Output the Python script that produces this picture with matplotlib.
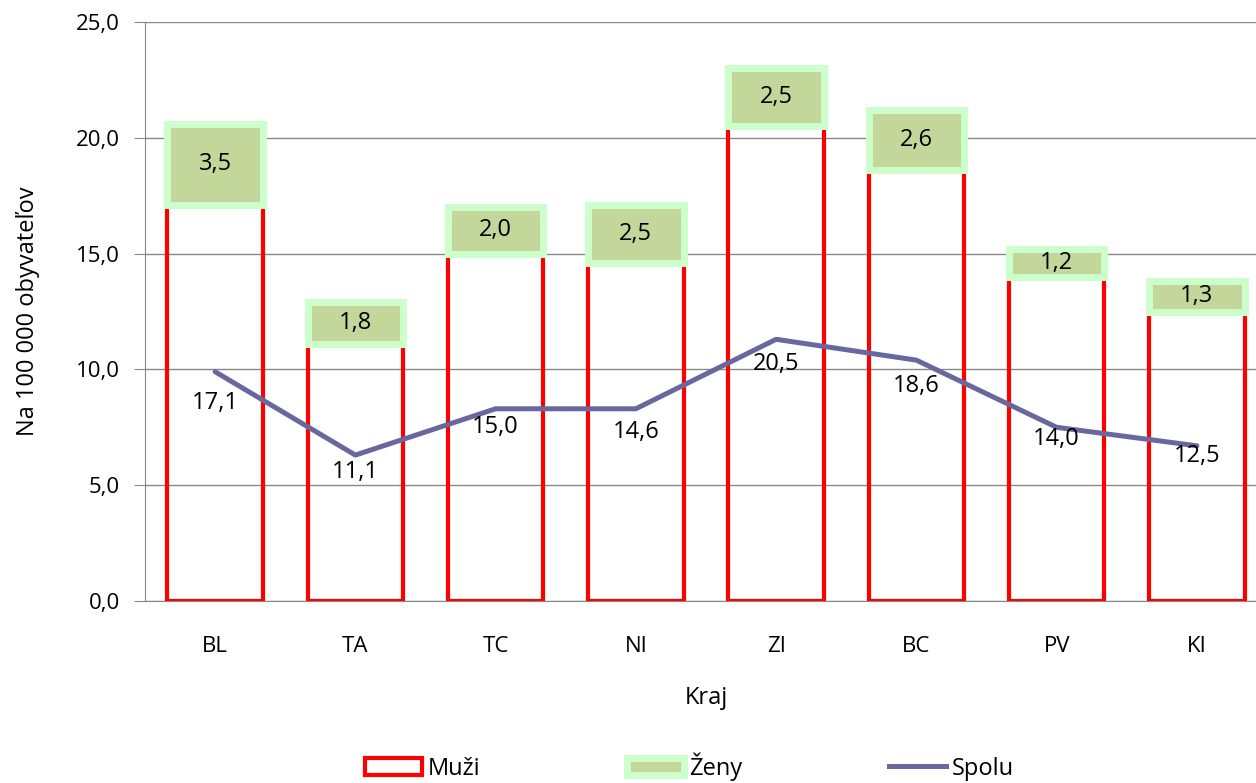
import matplotlib.pyplot as plt
from matplotlib.patches import Patch
from matplotlib.lines import Line2D
import numpy as np

plt.rcParams['font.family'] = ['Open Sans', 'DejaVu Sans']

kraje = ['BL', 'TA', 'TC', 'NI', 'ZI', 'BC', 'PV', 'KI']
muzi = [17.1, 11.1, 15.0, 14.6, 20.5, 18.6, 14.0, 12.5]
zeny = [3.5, 1.8, 2.0, 2.5, 2.5, 2.6, 1.2, 1.3]
spolu = [9.9, 6.3, 8.3, 8.3, 11.3, 10.4, 7.5, 6.7]

def ciarka(v):
    return '{:.1f}'.format(v).replace('.', ',')

fig = plt.figure(figsize=(12.56, 7.83), dpi=100)
ax = fig.add_axes([145 / 1256, 182 / 783, 1122 / 1256, 579 / 783])

x = np.arange(len(kraje))
sirka = 0.68

# muzi - len cerveny obrys
ax.bar(x, muzi, sirka, facecolor='none', edgecolor='#FF0000', linewidth=3.0, zorder=3)
# zeny - nalozene navrch
ax.bar(x, zeny, sirka, bottom=muzi, facecolor='#C4D79B', edgecolor='#CCFFCC',
       linewidth=5.0, zorder=3)
ax.plot(x, spolu, color='#68689F', linewidth=3.6, zorder=4, solid_capstyle='round')

for i in range(len(kraje)):
    ax.text(x[i], muzi[i] / 2, ciarka(muzi[i]), ha='center', va='center', fontsize=17, zorder=5)
    ax.text(x[i], muzi[i] + zeny[i] / 2, ciarka(zeny[i]), ha='center', va='center',
            fontsize=17, zorder=5)

ax.set_xlim(-0.5, len(kraje) - 0.5)
ax.set_ylim(0, 25)
ax.set_yticks(np.arange(0, 26, 5))
ax.set_yticklabels([ciarka(v) for v in np.arange(0, 26, 5)], fontsize=16)
ax.set_xticks(x)
ax.set_xticklabels(kraje, fontsize=16)
ax.tick_params(axis='x', length=0, pad=25)
ax.tick_params(axis='y', length=8, color='#888888', pad=10)
ax.grid(axis='y', color='#888888', linewidth=1)
ax.set_axisbelow(True)
for s in ['top', 'right']:
    ax.spines[s].set_visible(False)
for s in ['left', 'bottom']:
    ax.spines[s].set_color('#888888')

ax.set_xlabel('Kraj', fontsize=17, labelpad=21)
ax.set_ylabel('Na 100 000 obyvateľov', fontsize=17, labelpad=26)

handles = [Patch(facecolor='white', edgecolor='#FF0000', linewidth=3.0),
           Patch(facecolor='#C4D79B', edgecolor='#CCFFCC', linewidth=5.0),
           Line2D([0], [0], color='#68689F', linewidth=3.6)]
fig.legend(handles, ['Muži', 'Ženy', 'Spolu'], loc='center', bbox_to_anchor=(0.549, 0.021),
           ncol=3, frameon=False, fontsize=17, handlelength=2.4, handleheight=0.75,
           handletextpad=0.25, columnspacing=6.2)

fig.savefig('out.png', dpi=100)
